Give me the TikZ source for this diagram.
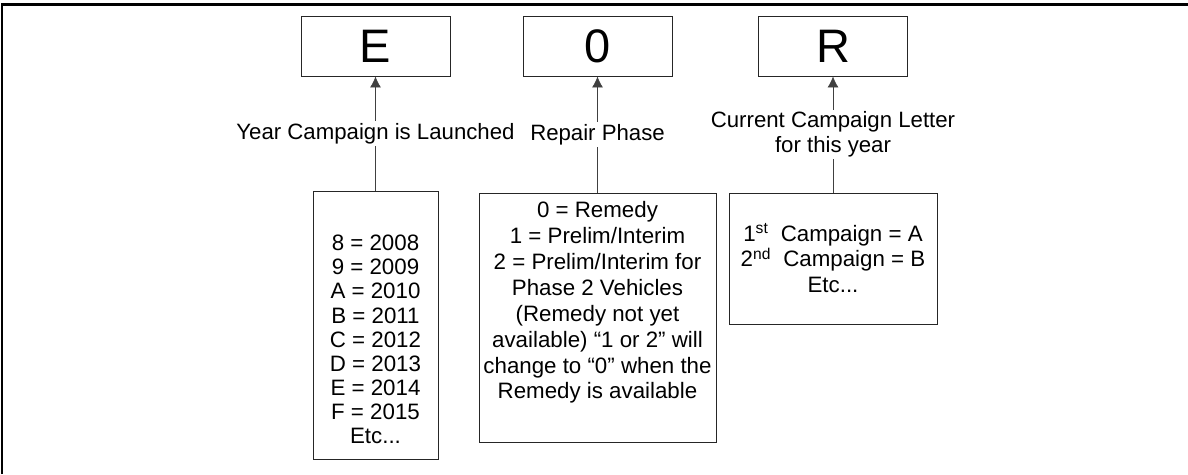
\documentclass[tikz,border=0pt]{standalone}
\usepackage{fontspec}
\setmainfont{Liberation Sans}
\usepackage{tikz}
\usetikzlibrary{arrows.meta, positioning}

\tikzset{
  letterbox/.style={draw=black!85, line width=0.9pt, minimum width=149pt, minimum height=60pt,
    inner sep=0pt, font=\fontsize{47}{50}\selectfont},
  infobox/.style={draw=black!85, line width=0.9pt, inner sep=0pt},
  infotext/.style={align=center, inner sep=0pt},
  desc/.style={fill=white, align=center, inner sep=2pt, font=\fontsize{22.2}{25}\selectfont},
  pointer/.style={draw=black!75, line width=0.8pt, -{Latex[length=11pt,width=11pt]}}
}

\begin{document}
\begin{tikzpicture}[x=1pt, y=-1pt]
  \useasboundingbox (0,0) rectangle (1188,474);
  % frame (only top and left edges show)
  \draw[line width=2.3pt] (2,474) -- (2,4.5) -- (1188,4.5);

  % code letters
  \node[letterbox] (letterE) at (375.5,46) {E};
  \node[letterbox] (letterZero) at (597.5,46) {0};
  \node[letterbox] (letterR) at (833,46) {R};

  % explanation boxes
  \node[infobox, minimum width=125pt, minimum height=268pt] (yearbox) at (375.5,325) {};
  \node[infobox, minimum width=237pt, minimum height=249pt] (phasebox) at (597.5,317.5) {};
  \node[infobox, minimum width=208pt, minimum height=131pt] (campbox) at (833,258.5) {};

  \node[infotext, font=\fontsize{22.3}{24.1}\selectfont] (yeartext) at (375.5,339.5)
    {8 = 2008\\9 = 2009\\A = 2010\\B = 2011\\C = 2012\\D = 2013\\E = 2014\\F = 2015\\Etc...};
  \node[infotext, font=\fontsize{22.3}{25.9}\selectfont] (phasetext) at (597.5,302.5)
    {0 = Remedy\\1 = Prelim/Interim\\2 = Prelim/Interim for\\Phase 2 Vehicles\\(Remedy not yet\\available) “1 or 2” will\\change to “0” when the\\Remedy is available};
  \node[infotext, font=\fontsize{22.3}{25.7}\selectfont] (camptext) at (833,258)
    {1\textsuperscript{st}\ \ Campaign = A\\2\textsuperscript{nd}\ \ Campaign = B\\Etc...};

  % pointers
  \draw[pointer] (yearbox) -- (letterE) node[desc, midway] {Year Campaign is Launched};
  \draw[pointer] (phasebox) -- (letterZero) node[desc, midway] {Repair Phase};
  \draw[pointer] (campbox) -- (letterR) node[desc, midway] {Current Campaign Letter\\for this year};
\end{tikzpicture}
\end{document}
